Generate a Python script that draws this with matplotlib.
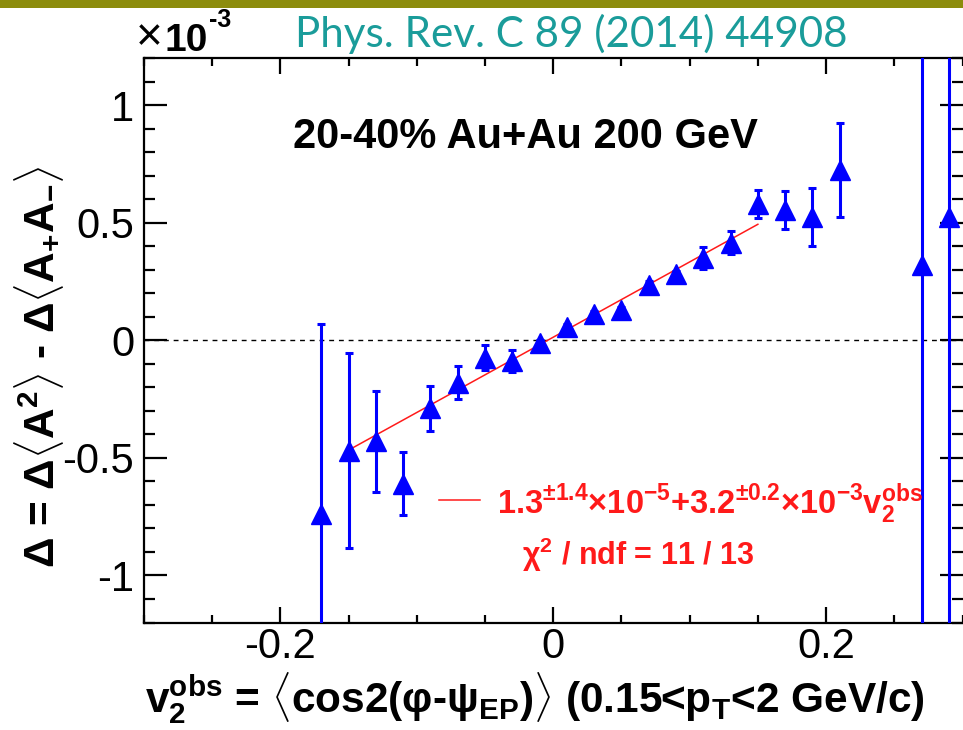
import numpy as np
import matplotlib
matplotlib.use("Agg")
import matplotlib.pyplot as plt
from matplotlib.patches import Rectangle
from matplotlib.ticker import MultipleLocator

plt.rcParams['font.family'] = ['Liberation Sans', 'DejaVu Sans']
plt.rcParams['mathtext.fontset'] = 'custom'
plt.rcParams['mathtext.rm'] = 'Liberation Sans'
plt.rcParams['mathtext.bf'] = 'Liberation Sans:bold'
plt.rcParams['mathtext.it'] = 'Liberation Sans:italic'
plt.rcParams['mathtext.sf'] = 'Liberation Sans'

# ---- data (values in units of 1e-3) ----
v2obs = [-0.17, -0.15, -0.13, -0.11, -0.09, -0.07, -0.05, -0.03, -0.01,
         0.01, 0.03, 0.05, 0.07, 0.09, 0.11, 0.13, 0.15, 0.17, 0.19, 0.21,
         0.27, 0.29]
delta = [-0.74, -0.47, -0.43, -0.61, -0.29, -0.18, -0.075, -0.087, -0.012,
         0.055, 0.11, 0.128, 0.237, 0.28, 0.35, 0.415, 0.58, 0.555, 0.525, 0.725,
         0.322, 0.525]
delta_err = [0.81, 0.415, 0.214, 0.135, 0.094, 0.07, 0.053, 0.046, 0.015,
             0.015, 0.015, 0.015, 0.015, 0.015, 0.045, 0.05, 0.06, 0.08, 0.123, 0.2,
             2.5, 2.5]
fit_p0 = 0.013   # 1.3e-5 in units of 1e-3
fit_p1 = 3.2     # 3.2e-3 in units of 1e-3
fit_range = [-0.15, 0.15]

xlim = [-0.3, 0.3]
ylim = [-1.2, 1.2]

W, H = 963, 730
fig = plt.figure(figsize=(W / 100, H / 100), dpi=100)
fig.patch.set_facecolor('white')

# olive top bar
fig.patches.append(Rectangle((0, 1 - 8 / H), 1, 8 / H, transform=fig.transFigure,
                             facecolor='#8c8c0c', edgecolor='none', zorder=0))

ax = fig.add_axes([144 / W, 1 - 622.5 / H, (962.5 - 144) / W, (622.5 - 58) / H])
ax.set_xlim(xlim)
ax.set_ylim(ylim)

ax.axhline(0, color='black', lw=1.0, ls=(0, (3.5, 3.5)), zorder=1)

xf = np.linspace(fit_range[0], fit_range[1], 50)
ax.plot(xf, fit_p0 + fit_p1 * xf, color='#ff1a1a', lw=1.1, zorder=2)

ax.errorbar(v2obs, delta, yerr=delta_err, fmt='^', color='#0000ff', ms=13.8,
            elinewidth=2.2, capsize=3.2, capthick=2.2, zorder=3, clip_on=True)

ax.xaxis.set_minor_locator(MultipleLocator(0.05))
ax.yaxis.set_minor_locator(MultipleLocator(0.1))
ax.set_xticks([-0.2, 0, 0.2])
ax.set_xticklabels(['-0.2', '0', '0.2'])
ax.set_yticks([-1, -0.5, 0, 0.5, 1])
ax.set_yticklabels(['-1', '-0.5', '0', '0.5', '1'])

ax.tick_params(axis='both', which='both', direction='in', top=True, right=True,
               width=1.6, labelsize=30)
ax.tick_params(axis='x', which='major', length=11.5, pad=3)
ax.tick_params(axis='x', which='minor', length=5.8)
ax.tick_params(axis='y', which='major', length=16.5, pad=7)
ax.tick_params(axis='y', which='minor', length=8)
for s in ['left', 'bottom', 'top']:
    ax.spines[s].set_linewidth(1.6)
ax.spines['right'].set_visible(False)

# axis titles
fig.text(925 / W, 1 - 712 / H,
         r"$\mathbf{v}_{\mathbf{2}}^{\mathbf{obs}}$ = $\langle$cos2(φ-ψ$_{\mathbf{EP}}$)$\rangle$ (0.15<p$_{\mathbf{T}}$<2 GeV/c)",
         ha='right', va='baseline', fontsize=30.5, fontweight='bold')
fig.text(12 / W, 1 - 165 / H,
         r"Δ = Δ$\langle$A$^{\mathbf{2}}\rangle$ - Δ$\langle$A$_{\mathbf{+}}$A$_{\mathbf{-}}\rangle$",
         rotation=90, ha='left', va='top', fontsize=30.5, fontweight='bold')

# exponent label
fig.text(136 / W, 1 - 50 / H, "×", ha='left', va='baseline', fontsize=33)
fig.text(164 / W, 1 - 51 / H, "10", ha='left', va='baseline', fontsize=28,
         fontweight='bold')
fig.text(209 / W, 1 - 27 / H, "-3", ha='left', va='baseline', fontsize=18,
         fontweight='bold')

# reference title
fig.text(295 / W, 1 - 47 / H, "Phys. Rev. C 89 (2014) 44908", ha='left', va='baseline',
         fontsize=30.3, color='#1a9c9a', family=['Lato', 'DejaVu Sans'])

# annotations
fig.text(293 / W, 1 - 148 / H, "20-40% Au+Au 200 GeV",
         ha='left', va='baseline', fontsize=30, fontweight='bold')

ax.plot([439 / W, 480 / W], [1 - 500 / H, 1 - 500 / H], transform=fig.transFigure,
        color='#ff1a1a', lw=1.1, clip_on=False)
fig.text(497 / W, 1 - 514 / H,
         r"1.3$^{\mathbf{\pm1.4}}$×10$^{\mathbf{-5}}$+3.2$^{\mathbf{\pm0.2}}$×10$^{\mathbf{-3}}$v$_{\mathbf{2}}^{\mathbf{obs}}$",
         ha='left', va='baseline', fontsize=23.5, fontweight='bold', color='#ff1a1a')
fig.text(522 / W, 1 - 565 / H, r"χ$^{\mathbf{2}}$ / ndf = 11 / 13",
         ha='left', va='baseline', fontsize=22, fontweight='bold', color='#ff1a1a')

fig.savefig('out.png', dpi=100, facecolor='white')
